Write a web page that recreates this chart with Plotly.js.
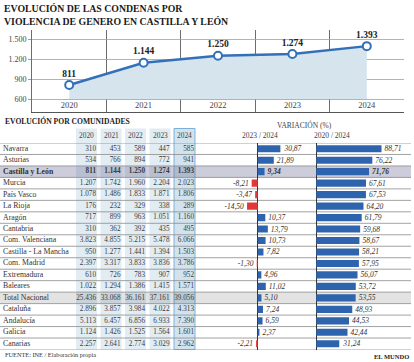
<!DOCTYPE html>
<html><head><meta charset="utf-8">
<script src="https://cdn.plot.ly/plotly-3.0.1.min.js"></script>
<style>html,body{margin:0;padding:0;background:#fff}#chart{width:414px;height:362px}</style>
</head><body><div id="chart"></div>
<script>
// ---- data ----
const years = [2020, 2021, 2022, 2023, 2024];
const cylTotals = [811, 1144, 1250, 1274, 1393];
const yTicks = [600, 900, 1200, 1500];
const regions = ['Navarra','Asturias','Castilla y León','Murcia','País Vasco','La Rioja','Aragón','Cantabria','Com. Valenciana','Castilla - La Mancha','Com. Madrid','Extremadura','Baleares','Total Nacional','Cataluña','Andalucía','Galicia','Canarias'];
const v2020 = [310,534,811,1207,1078,176,717,310,3823,950,2397,610,1022,25436,2896,5113,1124,2257];
const v2021 = [453,766,1144,1742,1486,232,899,362,4855,1277,3317,726,1294,33068,3857,6457,1426,2641];
const v2022 = [589,894,1250,1960,1833,329,963,392,5215,1441,3833,783,1386,36161,3984,6856,1525,2774];
const v2023 = [447,772,1274,2204,1871,338,1051,435,5478,1394,3836,907,1415,37161,4022,6933,1564,3029];
const v2024 = [585,941,1393,2023,1806,289,1160,495,6066,1503,3786,952,1571,39056,4313,7390,1601,2962];
const var2324 = [30.87,21.89,9.34,-8.21,-3.47,-14.50,10.37,13.79,10.73,7.82,-1.30,4.96,11.02,5.10,7.24,6.59,2.37,-2.21];
const var2024 = [88.71,76.22,71.76,67.61,67.53,64.20,61.79,59.68,58.67,58.21,57.95,56.07,53.72,53.55,48.93,44.53,42.44,31.24];
const highlightRegion = 'Castilla y León';
const totalRegion = 'Total Nacional';

// ---- helpers / styles ----
const W = 414, H = 362;
const px = p => p / W, py = p => 1 - p / H;
const FONT = '"Liberation Serif", "DejaVu Serif", serif';
const BLUE = '#3470b8', BAR_BLUE = '#2e64ae', RED = '#e3383a';
const fmtInt = n => String(n).replace(/\B(?=(\d{3})+(?!\d))/g, '.');
const fmtDec = n => n.toFixed(2).replace('.', ',');
const hi = regions.indexOf(highlightRegion), tot = regions.indexOf(totalRegion);
const boldIf = (s, i) => i === hi ? '<b>' + s + '</b>' : s;

const cols = [v2020, v2021, v2022, v2023, v2024];
const bandLeft = [76, 100.5, 125, 149.5, 174];
const bandW = 21;

const traces = [];
// line chart baseline (for area fill)
traces.push({x: years, y: years.map(() => yTicks[0]), mode: 'lines', line: {width: 0, color: 'rgba(0,0,0,0)'}, hoverinfo: 'skip', showlegend: false});
traces.push({x: years, y: cylTotals, mode: 'lines+markers+text', fill: 'tonexty', fillcolor: '#d6e4ee',
  line: {color: BLUE, width: 2.5}, marker: {size: 8, color: '#fff', line: {color: BLUE, width: 2}},
  text: cylTotals.map(fmtInt), textposition: 'top center', cliponaxis: false,
  textfont: {family: FONT, size: 9.5, weight: 'bold', color: '#222'}, showlegend: false});
traces.push({x: years, y: years.map(() => 490), mode: 'text', text: years.map(String), textposition: 'middle center',
  textfont: {family: FONT, size: 8.5, color: '#444'}, showlegend: false, hoverinfo: 'skip'});

// table: names
traces.push({x: regions.map(() => 3), y: regions, xaxis: 'x2', yaxis: 'y2', mode: 'text',
  text: regions.map(boldIf), textposition: 'middle right', cliponaxis: false,
  textfont: {family: FONT, size: 7.8, color: '#333'}, showlegend: false});
// table: values
cols.forEach((arr, c) => {
  traces.push({x: regions.map(() => bandLeft[c] + bandW - 1.0), y: regions, xaxis: 'x2', yaxis: 'y2', mode: 'text',
    text: arr.map((v, i) => boldIf(fmtInt(v), i)), textposition: 'middle left', cliponaxis: false,
    textfont: {family: FONT, size: 7.2, color: '#3a3a3a'}, showlegend: false});
});
// variation bars
const barTrace = (vals, xa) => ({type: 'bar', orientation: 'h', x: vals, y: regions, xaxis: xa, yaxis: 'y2',
  width: 0.62, marker: {color: vals.map(v => v < 0 ? RED : BAR_BLUE)},
  text: vals.map((v, i) => boldIf(fmtDec(v), i)), textposition: 'outside', constraintext: 'none', cliponaxis: false,
  textfont: {family: FONT, size: 7.5, style: 'italic', color: '#333'}, showlegend: false});
traces.push(barTrace(var2324, 'x3'));
traces.push(barTrace(var2024, 'x4'));

// ---- shapes ----
const shapes = [];
const tableTop = py(128.5), tableBot = py(349.5);
bandLeft.forEach((l, c) => {
  const last = c === bandLeft.length - 1;
  shapes.push({type: 'rect', xref: 'x2', yref: 'paper', x0: l, x1: l + bandW, y0: tableBot, y1: tableTop, layer: 'below',
    fillcolor: last ? '#d3e3ee' : '#e2ecf3', line: last ? {color: '#7db0d8', width: 1} : {width: 0}});
});
shapes.push({type: 'rect', xref: 'paper', yref: 'y2', x0: 0, x1: px(411), y0: hi - 0.5, y1: hi + 0.5, layer: 'below',
  fillcolor: 'rgba(110,110,150,0.35)', line: {width: 0}});
shapes.push({type: 'rect', xref: 'paper', yref: 'y2', x0: 0, x1: px(411), y0: tot - 0.5, y1: tot + 0.5, layer: 'below',
  fillcolor: 'rgba(0,0,0,0.11)', line: {width: 0}});
for (let i = 0; i <= regions.length; i++) {
  shapes.push({type: 'line', xref: 'paper', yref: 'y2', x0: 0, x1: px(411), y0: i - 0.5, y1: i - 0.5, layer: 'below',
    line: {color: '#8c8c8c', width: 0.8}});
}

// ---- annotations ----
const ann = [];
const txt = (text, x, y, xanchor, size, color) => ({text, x, y, xref: 'paper', yref: 'paper', xanchor, yanchor: 'middle',
  showarrow: false, font: {family: FONT, size, color: color || '#222'}});
ann.push(Object.assign(txt('<b>EVOLUCIÓN DE LAS CONDENAS POR<br>VIOLENCIA DE GENERO EN CASTILLA Y LEÓN</b>', px(2), py(1), 'left', 9.8, '#1a1a1a'),
  {yanchor: 'top', align: 'left'}));
ann.push(txt('<b>EVOLUCIÓN POR COMUNIDADES</b>', px(3), py(120.5), 'left', 7.6));
years.forEach((yr, c) => ann.push(txt(String(yr), px(bandLeft[c] + bandW - 1.0), py(135.7), 'right', 7.4, '#444')));
ann.push(txt('VARIACIÓN (%)', px(304.5), py(125), 'center', 7.5, '#444'));
ann.push(txt(years[3] + ' / ' + years[4], px(259.5), py(135.7), 'center', 7.5, '#444'));
ann.push(txt(years[0] + ' / ' + years[4], px(332), py(135.7), 'center', 7.5, '#444'));
ann.push(txt('FUENTE: INE / Elaboración propia', px(3), py(354.5), 'left', 6.3, '#333'));
ann.push(txt('<b>EL MUNDO</b>', px(411), py(356.5), 'right', 6.5));

const tickPos = years.map(y => y - 0.5).concat([years[years.length - 1] + 0.5]);
const S = 0.735; // px per percentage point
const layout = {
  width: W, height: H, margin: {l: 0, r: 0, t: 0, b: 0}, paper_bgcolor: '#fff', plot_bgcolor: 'rgba(0,0,0,0)',
  separators: ',.', showlegend: false, font: {family: FONT, color: '#222'},
  xaxis: {domain: [px(32), px(404)], range: [tickPos[0], tickPos[tickPos.length - 1]], tickvals: tickPos,
    showticklabels: false, showgrid: true, gridcolor: '#6d6d6d', gridwidth: 1, zeroline: false,
    showline: true, linecolor: '#555', linewidth: 1, ticks: '', anchor: 'y', fixedrange: true},
  yaxis: {domain: [py(112), py(30)], range: [405, 1635], tickvals: yTicks, tickformat: ',d',
    showgrid: true, gridcolor: '#a0a0a0', gridwidth: 0.8, ticks: 'outside', ticklen: 3, tickcolor: '#a0a0a0',
    tickfont: {family: FONT, size: 8, color: '#444'}, zeroline: false, showline: true, linecolor: '#6d6d6d',
    anchor: 'x', fixedrange: true},
  xaxis2: {domain: [0, 1], range: [0, W], visible: false, anchor: 'y2', fixedrange: true},
  yaxis2: {domain: [tableBot, py(143)], type: 'category', categoryarray: regions, categoryorder: 'array',
    range: [regions.length - 0.5, -0.5], visible: false, anchor: 'x2', fixedrange: true},
  xaxis3: {domain: [px(200), px(312)], range: [(200 - 257.7) / S, (312 - 257.7) / S], anchor: 'y2',
    showgrid: false, showticklabels: false, ticks: '', zeroline: true, zerolinecolor: '#333', zerolinewidth: 1, fixedrange: true},
  xaxis4: {domain: [px(312), 1], range: [(312 - 316.3) / S, (414 - 316.3) / S], anchor: 'y2',
    showgrid: false, showticklabels: false, ticks: '', zeroline: true, zerolinecolor: '#333', zerolinewidth: 1, fixedrange: true},
  shapes, annotations: ann, bargap: 0.38
};
Plotly.newPlot('chart', traces, layout, {displayModeBar: false, staticPlot: true});
</script></body></html>
